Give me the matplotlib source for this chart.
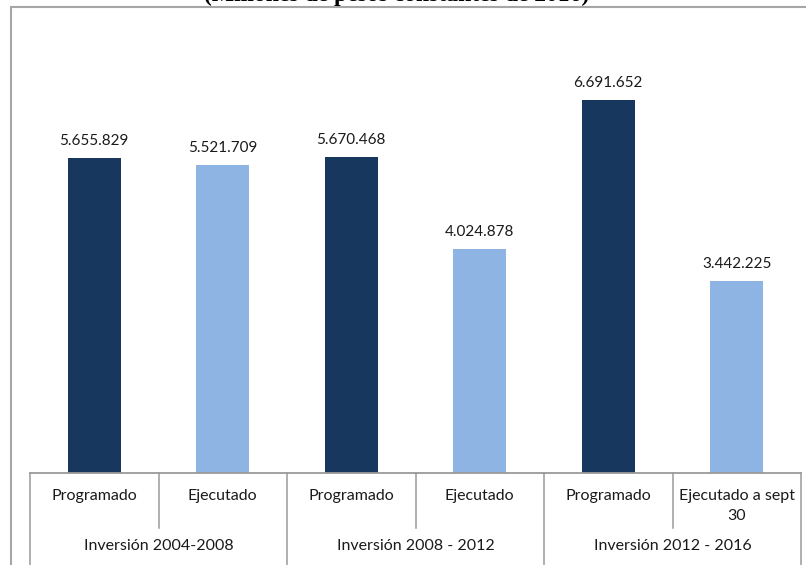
import matplotlib.pyplot as plt
from matplotlib.patches import Rectangle
from matplotlib.lines import Line2D

# values
groups = ['Inversión 2004-2008', 'Inversión 2008 - 2012', 'Inversión 2012 - 2016']
items = ['Programado', 'Ejecutado', 'Programado', 'Ejecutado', 'Programado', 'Ejecutado a sept\n30']
values = [5655829, 5521709, 5670468, 4024878, 6691652, 3442225]
colors = ['#17375E', '#8EB4E3'] * 3

W, H = 806, 565
fig = plt.figure(figsize=(W / 100, H / 100), dpi=100)
plt.rcParams['font.family'] = ['Lato', 'DejaVu Sans']

# plot area in pixels
x0, x1 = 30, 801
y_axis, y_top = 473, 27
ax = fig.add_axes([x0 / W, 1 - y_axis / H, (x1 - x0) / W, (y_axis - y_top) / H])
ax_h = y_axis - y_top

xs = list(range(len(values)))
ax.bar(xs, values, width=0.41, color=colors)
ax.set_xlim(-0.5, len(values) - 0.5)
ax.set_ylim(0, 8000000)

for x, v in zip(xs, values):
    ax.annotate(f'{v:,}'.replace(',', '.'), (x, v), xytext=(0, 7), textcoords='offset points',
                ha='center', va='bottom', fontsize=11, color='#1a1a1a')

for s in ['left', 'right', 'top']:
    ax.spines[s].set_visible(False)
ax.spines['bottom'].set_color('#9a9a9a')
ax.spines['bottom'].set_linewidth(1.3)
ax.set_xticks([])
ax.set_yticks([])

tr = ax.get_xaxis_transform()
grid_c = '#9a9a9a'
inner_bottom = -(528 - y_axis) / ax_h
outer_bottom = -(H - y_axis + 5) / ax_h
# separators
for i in range(len(values) + 1):
    b = outer_bottom if i % 2 == 0 else inner_bottom
    ax.add_line(Line2D([i - 0.5, i - 0.5], [0, b], transform=tr, color=grid_c, lw=1.1, clip_on=False))

for x, lab in zip(xs, items):
    ax.text(x, -(489 - y_axis) / ax_h, lab, transform=tr, ha='center', va='top',
            fontsize=11.5, color='#1a1a1a', linespacing=1.55)
for g, name in enumerate(groups):
    ax.text(2 * g + 0.5, -(546 - y_axis) / ax_h, name, transform=tr, ha='center', va='center',
            fontsize=11.5, color='#1a1a1a')

# outer frame of the chart (bottom and right edges fall outside the picture)
fig.patches.append(Rectangle((11 / W, -0.1), 1.2, 1.1 - 7 / H, transform=fig.transFigure,
                             fill=False, edgecolor='#a6a6a6', lw=1.5))

# title, almost completely cut off at the top
fig.text(397 / W, 1 - 1 / H, '(Millones de pesos constantes de 2016)', ha='center', va='baseline',
         fontsize=17, fontweight='bold', family='Liberation Serif')

fig.savefig('out.png', dpi=100)
